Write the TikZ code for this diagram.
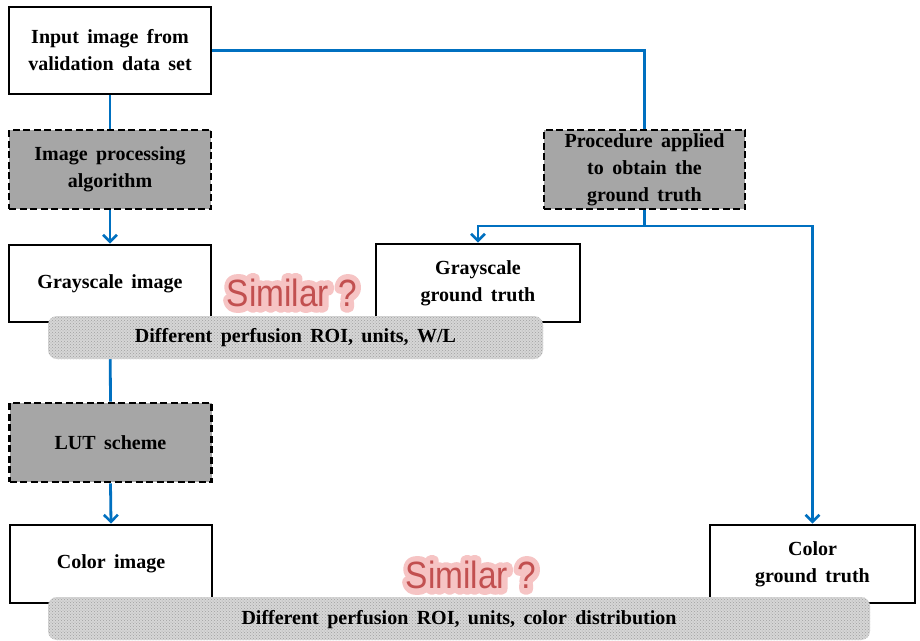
\documentclass[tikz,border=0pt]{standalone}
\usepackage{fontspec}
\setmainfont{Liberation Serif}
\newfontfamily\simfont{Liberation Sans}
\usetikzlibrary{arrows.meta,patterns}
\definecolor{lineblue}{RGB}{0,112,192}
\definecolor{procgray}{RGB}{166,166,166}
\definecolor{bannergray}{RGB}{214,214,214}
\definecolor{bannerdot}{RGB}{160,160,160}
\definecolor{simred}{RGB}{194,80,80}
\definecolor{simglow}{RGB}{245,195,195}
\newcommand{\boxfont}{\fontsize{20}{27}\selectfont\bfseries\spaceskip=0.42em plus 0.1em\relax}
\newcommand{\glowtext}[1]{\special{pdf:literal direct 2 Tr 12 w 1 j 1 J 0.965 0.77 0.77 RG}#1\special{pdf:literal direct 0 Tr 1 w}}
\tikzset{
  box/.style={draw=black, line width=2.8pt, fill=white, align=center, inner sep=0pt,
    font=\boxfont, minimum width=202pt, minimum height=79pt},
  procbox/.style={box, fill=procgray, dash pattern=on 7pt off 3.5pt},
  bannerpat/.style={pattern=crosshatch dots, pattern color=bannerdot, rounded corners=9pt},
  conn/.style={draw=lineblue, line width=2.8pt},
  arr/.style={conn, -{Straight Barb[length=7pt, width=14pt, line width=2.6pt]}},
  simtxt/.style={font=\simfont\fontsize{38}{40}\selectfont, xscale=0.88, inner sep=0pt}
}
\begin{document}
\begin{tikzpicture}[x=1pt, y=-1pt]
\useasboundingbox[fill=white] (0,0) rectangle (920,640);
% left column
\node[box, minimum height=87pt] (in) at (110,50.5) {Input image from\\validation data set};
\node[procbox] (ipa) at (110,169.5) {Image processing\\algorithm};
\node[box, minimum height=77pt] (gi) at (110,283.5) {Grayscale image};
\node[procbox] (lut) at (110.5,442.5) {LUT scheme};
\node[box, minimum height=78pt] (ci) at (111,564) {Color image};
% right side
\node[procbox, minimum width=201pt] (proc) at (644.5,169.5) {Procedure applied\\to obtain the\\ground truth};
\node[box, minimum height=78pt, minimum width=204pt] (ggt) at (478,283) {Grayscale\\ground truth};
\node[box, minimum height=78pt, minimum width=205pt] (cgt) at (812.5,564) {Color\\ground truth};
\coordinate (split) at (644.5,226);
% connectors
\draw[conn] (in.east) -| (proc.north);
\draw[conn] (in.south) -- (ipa.north);
\draw[arr] (ipa.south) -- (gi.north);
\draw[conn] (gi.south) -- (lut.north);
\draw[arr] (lut.south) -- (ci.north);
\draw[conn] (proc.south) -- (split);
\draw[arr] (split) -| (ggt.north);
\draw[arr] (split) -| (cgt.north);
% banners
\fill[bannergray, rounded corners=9pt] (48,316) rectangle (543,359);
\fill[bannerpat] (48,316) rectangle (543,359);
\node[inner sep=0pt, font=\boxfont] (b1) at (295.5,337.5) {Different perfusion ROI, units, W/L};
\fill[bannergray, rounded corners=9pt] (48,597) rectangle (870,640);
\fill[bannerpat] (48,597) rectangle (870,640);
\node[inner sep=0pt, font=\boxfont] (b2) at (459,620) {Different perfusion ROI, units, color distribution};
% similar labels
\node[simtxt, text=simglow] (g1) at (292,293) {\glowtext{Similar ?}};
\node[simtxt, text=simred] (sim1) at (g1) {Similar ?};
\node[simtxt, text=simglow] (g2) at (471,575) {\glowtext{Similar ?}};
\node[simtxt, text=simred] (sim2) at (g2) {Similar ?};
\end{tikzpicture}
\end{document}
